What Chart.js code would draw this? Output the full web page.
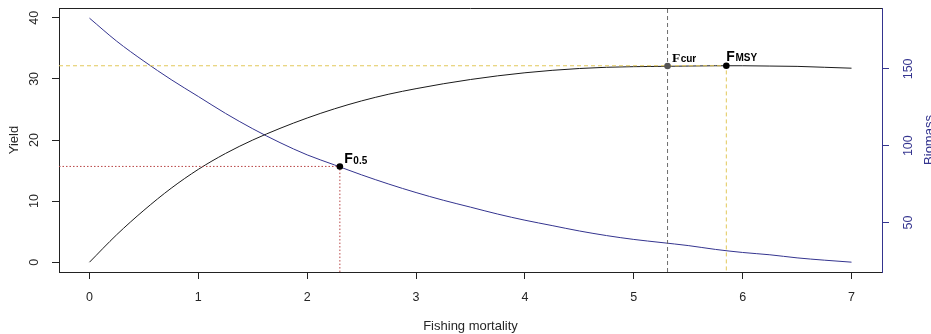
<!DOCTYPE html>
<html>
<head>
<meta charset="utf-8">
<title>Yield and biomass against fishing mortality</title>
<script src="https://cdn.jsdelivr.net/npm/chart.js@4.4.1/dist/chart.umd.min.js"></script>
<style>
  html, body { margin: 0; padding: 0; background: #fff; }
  #chartBox { width: 931px; height: 334px; }
</style>
</head>
<body>
<div id="chartBox"><canvas id="yieldChart" width="931" height="334"></canvas></div>
<script>
// ======= DATA =======
const fishingMortality = [0, 0.25, 0.5, 0.75, 1, 1.25, 1.5, 1.75, 2, 2.25, 2.5, 2.75, 3, 3.25, 3.5,
                          3.75, 4, 4.25, 4.5, 4.75, 5, 5.25, 5.5, 5.75, 6, 6.25, 6.5, 6.75, 7];
const yieldValues = [0, 4.5, 8.5, 12.1, 15.2, 17.8, 20.0, 21.9, 23.6, 25.1, 26.4, 27.5, 28.4, 29.2, 29.9,
                     30.5, 31.0, 31.4, 31.7, 31.9, 32.0, 32.05, 32.1, 32.15, 32.15, 32.1, 32.05, 31.9, 31.75];
const biomassValues = [183, 168, 155, 143, 132, 121, 111, 102, 94, 87.5, 81, 75, 69.5, 64.5, 60,
                       55.5, 51.5, 48, 44.5, 41.5, 39, 37, 35, 32.5, 30.5, 29, 27, 25.5, 24.2];

const xTicks = [0, 1, 2, 3, 4, 5, 6, 7];
const yieldTicks = [0, 10, 20, 30, 40];
const biomassTicks = [50, 100, 150];

// reference points
const fHalf = 2.3, biomassAtFHalf = 86.5;
const fCur = 5.31, yieldAtFCur = 32.1;
const fMsy = 5.85, msy = 32.15;

// axis ranges (R style: 4% padding around the data)
const xRange = [-0.28, 7.28];
const yieldRange = [-1.6, 41.6];
const biomassRange = [17.8, 189.6];

const blue = '#34348f';
const textGrey = '#262626';

// ======= HELPERS =======
function pairs(xs, ys) {
  return xs.map((x, i) => ({ x: x, y: ys[i] }));
}

// text rotated 90deg counter-clockwise (like R's las=0 on side 2/4)
function vText(ctx, text, x, y, font, color) {
  ctx.save();
  ctx.translate(x, y);
  ctx.rotate(-Math.PI / 2);
  ctx.font = font;
  ctx.fillStyle = color;
  ctx.textAlign = 'center';
  ctx.textBaseline = 'alphabetic';
  ctx.fillText(text, 0, 0);
  ctx.restore();
}

// "F" with a subscript next to a reference point
function fLabel(ctx, sub, px, py, dx, dy, mainFont) {
  ctx.save();
  ctx.fillStyle = '#000';
  ctx.textAlign = 'left';
  ctx.textBaseline = 'alphabetic';
  ctx.font = mainFont;
  ctx.fillText('F', px + dx, py + dy);
  let w = ctx.measureText('F').width;
  ctx.font = 'bold 10px "Liberation Sans", Arial, sans-serif';
  ctx.fillText(sub, px + dx + w + 0.5, py + dy + (sub === '0.5' ? 1 : 0));
  ctx.restore();
}

// ======= EXTRA DRAWING: box top, rotated axis text, point labels =======
const annotate = {
  id: 'annotate',
  afterDraw(chart) {
    const { ctx, chartArea: area, scales } = chart;
    const midY = (area.top + area.bottom) / 2;

    ctx.save();
    ctx.strokeStyle = '#222';
    ctx.lineWidth = 1;
    ctx.beginPath();
    ctx.moveTo(area.left, area.top + 0.5);
    ctx.lineTo(area.right, area.top + 0.5);
    ctx.stroke();
    ctx.restore();

    const tickFont = '12.5px "Liberation Sans", Arial, sans-serif';
    const titleFont = '13px "Liberation Sans", Arial, sans-serif';

    scales.y.ticks.forEach(t => vText(ctx, String(t.value), 38, scales.y.getPixelForValue(t.value), tickFont, textGrey));
    scales.y1.ticks.forEach(t => vText(ctx, String(t.value), 911.5, scales.y1.getPixelForValue(t.value), tickFont, blue));
    vText(ctx, 'Yield', 18, midY, titleFont, textGrey);
    vText(ctx, 'Biomass', 933, midY, titleFont, blue);

    const sans = 'bold 14px "Liberation Sans", Arial, sans-serif';
    const serif = 'bold 13.5px "Liberation Serif", "Times New Roman", serif';
    fLabel(ctx, '0.5', scales.x.getPixelForValue(fHalf), scales.y1.getPixelForValue(biomassAtFHalf), 4.4, -3.4, sans);
    fLabel(ctx, 'cur', scales.x.getPixelForValue(fCur), scales.y.getPixelForValue(yieldAtFCur), 4.4, -4, serif);
    fLabel(ctx, 'MSY', scales.x.getPixelForValue(fMsy), scales.y.getPixelForValue(msy), 0, -5, sans);
  }
};

// ======= CHART =======
const chart = new Chart(document.getElementById('yieldChart').getContext('2d'), {
  type: 'line',
  data: {
    datasets: [
      // points on top
      { data: [{ x: fHalf, y: biomassAtFHalf }], yAxisID: 'y1', showLine: false,
        pointRadius: 3.3, pointBackgroundColor: '#000', pointBorderWidth: 0, order: 0 },
      { data: [{ x: fCur, y: yieldAtFCur }], yAxisID: 'y', showLine: false,
        pointRadius: 3.3, pointBackgroundColor: '#555', pointBorderWidth: 0, order: 0 },
      { data: [{ x: fMsy, y: msy }], yAxisID: 'y', showLine: false,
        pointRadius: 3.3, pointBackgroundColor: '#000', pointBorderWidth: 0, order: 0 },

      // reference lines
      { data: [{ x: xRange[0], y: biomassAtFHalf }, { x: fHalf, y: biomassAtFHalf }, { x: fHalf, y: biomassRange[0] }],
        yAxisID: 'y1', borderColor: '#b84545', borderWidth: 1, borderDash: [1.5, 2], pointRadius: 0, order: 1 },
      { data: [{ x: xRange[0], y: msy }, { x: fMsy, y: msy }, { x: fMsy, y: yieldRange[0] }],
        yAxisID: 'y', borderColor: '#e2c85a', borderWidth: 1, borderDash: [4, 3], pointRadius: 0, order: 1 },
      { data: [{ x: fCur, y: yieldRange[0] }, { x: fCur, y: yieldRange[1] }],
        yAxisID: 'y', borderColor: '#6e6e6e', borderWidth: 1, borderDash: [4, 3], pointRadius: 0, order: 1 },

      // curves
      { label: 'Yield', data: pairs(fishingMortality, yieldValues), yAxisID: 'y',
        borderColor: '#1a1a1a', borderWidth: 1, pointRadius: 0, cubicInterpolationMode: 'monotone', order: 2 },
      { label: 'Biomass', data: pairs(fishingMortality, biomassValues), yAxisID: 'y1',
        borderColor: blue, borderWidth: 1, pointRadius: 0, cubicInterpolationMode: 'monotone', order: 2 }
    ]
  },
  options: {
    responsive: false,
    animation: false,
    devicePixelRatio: 1,
    layout: { padding: { top: 8, left: 0, right: 0, bottom: 0 } },
    plugins: { legend: { display: false }, tooltip: { enabled: false } },
    scales: {
      x: {
        type: 'linear',
        min: xRange[0], max: xRange[1],
        afterBuildTicks: s => { s.ticks = xTicks.map(v => ({ value: v })); },
        afterFit: s => { s.height = 62; },
        grid: { drawOnChartArea: false, drawTicks: true, tickLength: 7, color: '#222' },
        border: { color: '#222' },
        ticks: { color: textGrey, padding: 11, font: { family: '"Liberation Sans", Arial, sans-serif', size: 12.5 } },
        title: { display: true, text: 'Fishing mortality', color: textGrey, padding: 0,
                 font: { family: '"Liberation Sans", Arial, sans-serif', size: 13 } }
      },
      y: {
        type: 'linear', position: 'left',
        min: yieldRange[0], max: yieldRange[1],
        afterBuildTicks: s => { s.ticks = yieldTicks.map(v => ({ value: v })); },
        afterFit: s => { s.width = 59; },
        grid: { drawOnChartArea: false, drawTicks: true, tickLength: 7, color: '#222' },
        border: { color: '#222' },
        ticks: { display: false }
      },
      y1: {
        type: 'linear', position: 'right',
        min: biomassRange[0], max: biomassRange[1],
        afterBuildTicks: s => { s.ticks = biomassTicks.map(v => ({ value: v })); },
        afterFit: s => { s.width = 49; },
        grid: { drawOnChartArea: false, drawTicks: true, tickLength: 7, color: blue },
        border: { color: blue },
        ticks: { display: false }
      }
    }
  },
  plugins: [annotate]
});
</script>
</body>
</html>
